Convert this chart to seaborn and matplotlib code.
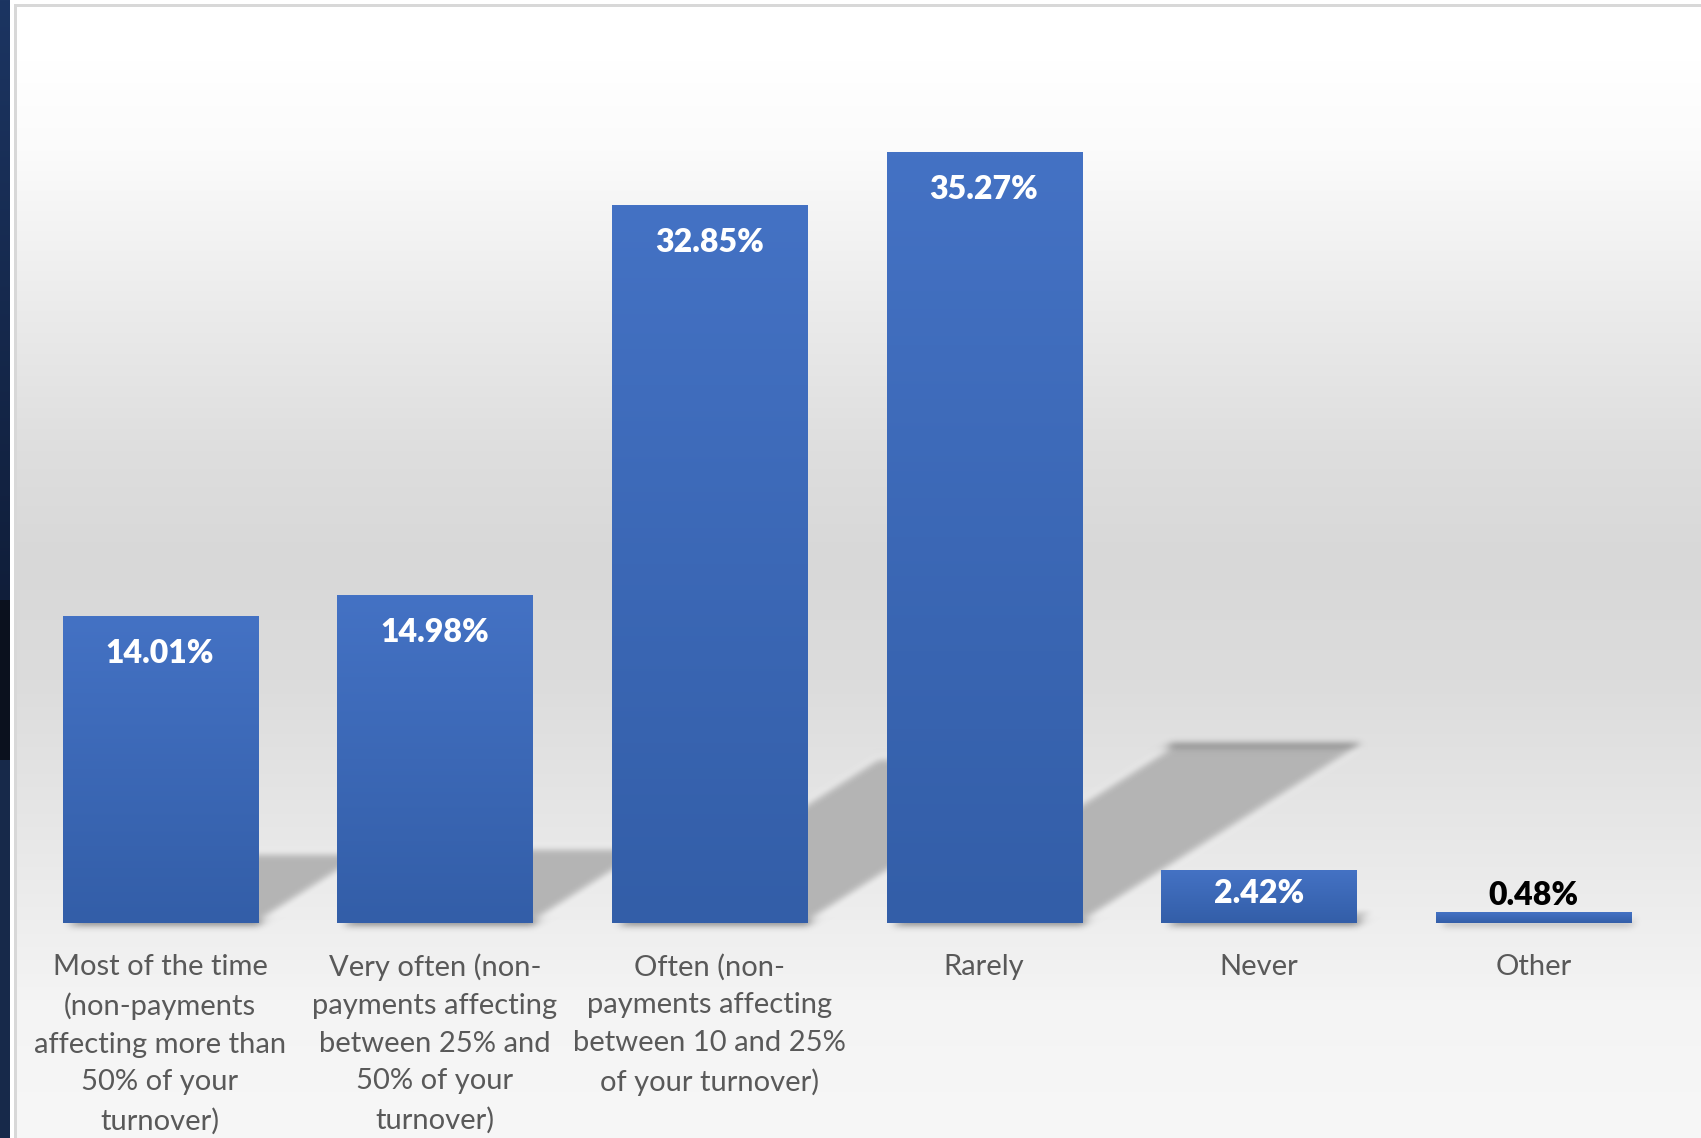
import numpy as np
import matplotlib
matplotlib.use("Agg")
import matplotlib.pyplot as plt
import seaborn as sns
from matplotlib.patches import Polygon
from matplotlib.collections import PatchCollection
from matplotlib.colors import LinearSegmentedColormap

# ---- data -------------------------------------------------------------
categories = [
    "Most of the time\n(non-payments\naffecting more than\n50% of your\nturnover)",
    "Very often (non-\npayments affecting\nbetween 25% and\n50% of your\nturnover)",
    "Often (non-\npayments affecting\nbetween 10 and 25%\nof your turnover)",
    "Rarely",
    "Never",
    "Other",
]
shares = [14.01, 14.98, 32.85, 35.27, 2.42, 0.48]

# ---- style ------------------------------------------------------------
sns.set_theme(style="white")
plt.rcParams["font.family"] = ["Lato", "DejaVu Sans"]

BAR_TOP = "#4472C4"
BAR_BOTTOM = "#335EA8"
LABEL_GREY = "#595959"
SHADOW = "#b4b4b4"

W, H = 1701, 1138
fig = plt.figure(figsize=(W / 100, H / 100), dpi=100)

# ---- backdrop: vertical grey gradient, frame line, navy strip ----------
ys = np.arange(H)
stop_y = [0, 60, 150, 300, 450, 560, 680, 800, 920, 1000, 1138]
stop_v = [255, 255, 251, 236, 222, 216, 220, 229, 238, 244, 247]
grey = np.interp(ys, stop_y, stop_v) / 255.0
bg = np.ones((H, W, 3)) * grey[:, None, None]
bg[:4, :, :] = 1.0
bg[:, :14, :] = 1.0
bg[4:7, 14:, :] = 0.85
bg[4:, 14:17, :] = 0.85
strip_top = np.array([0x1c, 0x35, 0x62]) / 255
strip_mid = np.array([0x10, 0x1e, 0x3a]) / 255
strip_dark = np.array([0x0b, 0x11, 0x1e]) / 255
strip_low = np.array([0x17, 0x29, 0x4a]) / 255
for y in range(H):
    if y < 600:
        t = y / 600
        c = strip_top * (1 - t) + strip_mid * t
    elif y < 760:
        c = strip_dark
    else:
        c = strip_low
    bg[y, :10, :] = c

ax_bg = fig.add_axes([0, 0, 1, 1])
ax_bg.imshow(bg, aspect="auto", interpolation="nearest")
ax_bg.set_axis_off()

# ---- main axes ---------------------------------------------------------
base_px = 923
top_px = 49
ax = fig.add_axes([22.7 / W, (H - base_px) / H, 1648 / W, (base_px - top_px) / H])
ax.set_facecolor("none")

sns.barplot(x=categories, y=shares, ax=ax, color=BAR_TOP, width=0.71,
            saturation=1, zorder=2, edgecolor="none", linewidth=0)
ax.set_xlim(-0.5, 5.5)
ax.set_ylim(0, 40)


def gaussian_blur(sigma):
    r = int(3 * sigma)
    k = np.exp(-0.5 * (np.arange(-r, r + 1) / sigma) ** 2)
    k /= k.sum()

    def conv(a, axis):
        a = np.moveaxis(a, axis, 0)
        n = a.shape[0]
        ap = np.pad(a, [(r, r)] + [(0, 0)] * (a.ndim - 1))
        out = np.zeros_like(a)
        for i, kv in enumerate(k):
            out += kv * ap[i:i + n]
        return np.moveaxis(out, 0, axis)

    def filt(img, dpi):
        p = np.pad(img, [(r, r), (r, r), (0, 0)])
        p = conv(conv(p, 0), 1)
        return p, -r, -r

    return filt


# cast shadows: a sheared copy of each bar's footprint, lying behind it
bars = list(ax.patches)
shadow_polys = []
for patch, v in zip(bars, shares):
    x0, w = patch.get_x(), patch.get_width()
    dx = 0.0289 * v
    s = 0.23 * v
    inset = 0.02
    shadow_polys.append(Polygon([(x0 + inset, 0), (x0 + w, 0), (x0 + w + dx, s),
                                 (x0 + inset + dx, s)], closed=True))
shadows = PatchCollection(shadow_polys, facecolor=SHADOW, edgecolor="none", zorder=1)
shadows.set_agg_filter(gaussian_blur(4))
ax.add_collection(shadows)

# vertical fill gradient on each bar
grad_cmap = LinearSegmentedColormap.from_list("bar", [BAR_TOP, BAR_BOTTOM])
grad = np.linspace(0, 1, 256).reshape(-1, 1)
for patch in bars:
    x0, w, h = patch.get_x(), patch.get_width(), patch.get_height()
    ax.imshow(grad, cmap=grad_cmap, extent=[x0, x0 + w, 0, h], aspect="auto",
              interpolation="bilinear", zorder=2.1)
ax.set_xlim(-0.5, 5.5)
ax.set_ylim(0, 40)

# value labels
px_per_unit = (base_px - top_px) / 40
label_kw = dict(textcoords="offset pixels", ha="center", va="center",
                fontsize=23, fontweight="heavy", zorder=5)
for patch, v in zip(bars, shares):
    xc = patch.get_x() + patch.get_width() / 2
    hpx = v * px_per_unit
    txt = f"{v:.2f}%"
    if hpx > 70:
        ax.annotate(txt, (xc, v), xytext=(0, -37), color="white", **label_kw)
    elif hpx > 35:
        ax.annotate(txt, (xc, v / 2), xytext=(0, 3), color="white", **label_kw)
    else:
        ax.annotate(txt, (xc, v), xytext=(0, 17), color="black", **label_kw)

# axes cosmetics
for sp in ax.spines.values():
    sp.set_visible(False)
ax.set_yticks([])
ax.set_xlabel("")
ax.set_ylabel("")
ax.tick_params(axis="x", length=0, pad=22, labelsize=21, labelcolor=LABEL_GREY)
for lbl in ax.get_xticklabels():
    lbl.set_linespacing(1.56)

fig.savefig("out.png", dpi=100)
